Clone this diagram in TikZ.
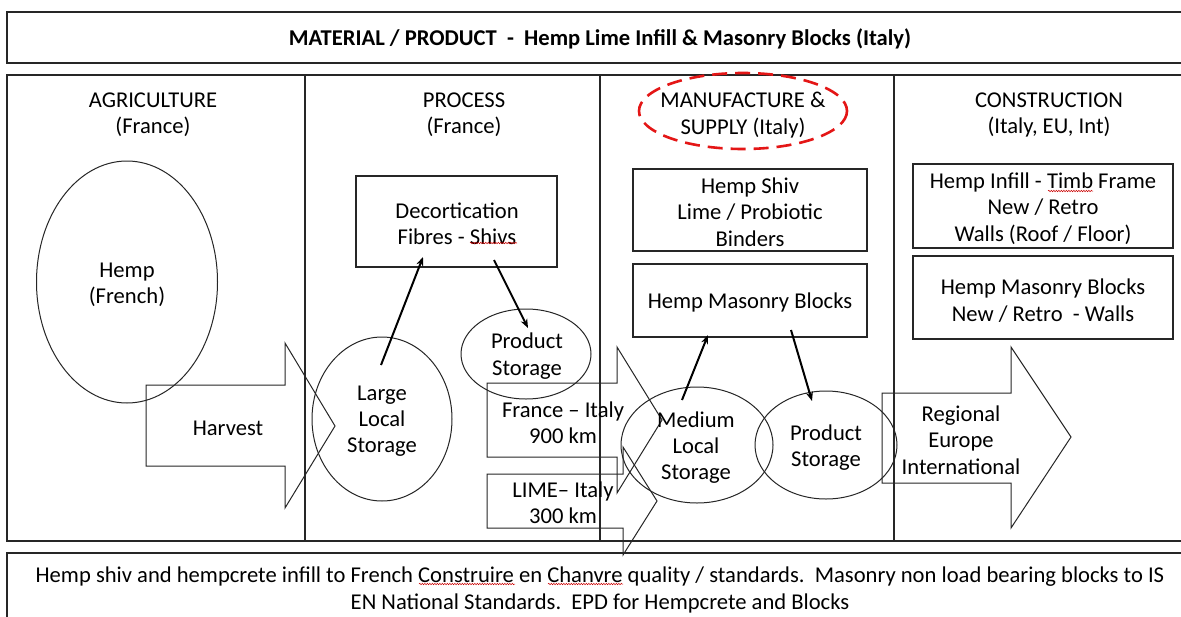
\documentclass[tikz,border=0pt]{standalone}
\usepackage{fontspec}
\setmainfont{Carlito}
\usetikzlibrary{shapes.geometric,arrows.meta,decorations.pathmorphing}
\definecolor{dashred}{RGB}{228,22,22}
\newcommand{\myfs}{\fontsize{22.6}{26.3}\selectfont}
\tikzset{
  frame/.style={draw=black!85, line width=1.1pt},
  txt/.style={align=center, inner sep=0pt, font=\myfs},
  oval/.style={draw=black!85, line width=1pt, ellipse, inner sep=0pt, align=center, font=\myfs},
  boxnode/.style={draw=black!85, line width=1.1pt, rectangle, inner sep=0pt, align=center, font=\myfs},
  blockarrow/.style={draw=black!85, line width=1pt},
  flow/.style={draw=black, line width=2pt, -{Stealth[length=9pt,width=7pt]}},
  squiggle/.style={draw=red!80!black, line width=0.5pt, decorate, decoration={snake, amplitude=0.7pt, segment length=2.5pt}}
}
\begin{document}
\begin{tikzpicture}[x=1pt,y=-1pt]
\useasboundingbox (0,0) rectangle (1181,616);
\fill[white] (0,0) rectangle (1181,616);
% frames
\draw[frame] (7,12) rectangle (1195,63);
\draw[frame] (7,75) rectangle (1195,541);
\draw[frame] (7,553) rectangle (1195,640);
\draw[frame] (305,75) -- (305,541);
\draw[frame] (600,75) -- (600,541);
\draw[frame] (894,75) -- (894,541);
% title and headers
\node[txt, font=\myfs\bfseries] (title) at (600,39) {MATERIAL / PRODUCT\ \ -\ \ Hemp Lime Infill \& Masonry Blocks (Italy)};
\node[txt] (hagr) at (153,115) {AGRICULTURE\\(France)};
\node[txt] (hproc) at (464,115) {PROCESS\\(France)};
\node[txt] (hman) at (743,115) {MANUFACTURE \&\\SUPPLY (Italy)};
\node[txt] (hcons) at (1049,115) {CONSTRUCTION\\(Italy, EU, Int)};
\draw[dashred, line width=2.6pt, dash pattern=on 15pt off 8pt] (743,111) ellipse [x radius=104, y radius=38];
% agriculture
\node[oval, minimum width=181pt, minimum height=242pt] (hemp) at (127,282) {};
\node[txt] (hempt) at (127,285) {Hemp\\(French)};
\draw[blockarrow] (146,385) -- (285,385) -- (285,343) -- (335,426) -- (285,508) -- (285,466) -- (146,466) -- cycle;
\node[txt] (harvest) at (228,428) {Harvest};
% process
\node[oval, minimum width=140pt, minimum height=164pt] (lls) at (382,419) {};
\node[txt] (llst) at (382,421) {Large\\Local\\Storage};
\node[boxnode, minimum width=201pt, minimum height=91pt] (dec) at (456.5,221.5) {};
\node[txt] (dect) at (457,223.5) {Decortication\\Fibres - Shivs};
\node[oval, minimum width=130pt, minimum height=90pt] (ps1) at (526,354) {};
\node[txt] (ps1t) at (527,356) {Product\\Storage};
\coordinate (a1s) at (381,365);
\coordinate (a1e) at (423,257);
\coordinate (a2s) at (494,260);
\coordinate (a2e) at (528,328);
\draw[flow] (a1s) -- (a1e);
\draw[flow] (a2s) -- (a2e);
% transport arrows
\draw[blockarrow] (487,383) -- (617,383) -- (617,347) -- (662,420) -- (617,493) -- (617,457) -- (487,457) -- cycle;
\node[txt] (fi) at (563,422.5) {France -- Italy\\900 km};
\draw[blockarrow] (487,474) -- (623,474) -- (623,447) -- (657,501) -- (623,555) -- (623,528) -- (487,528) -- cycle;
\node[txt] (li) at (563,503) {LIME-- Italy\\300 km};
% manufacture
\node[boxnode, minimum width=234pt, minimum height=82pt] (shiv) at (750,210) {};
\node[txt] (shivt) at (750,212) {Hemp Shiv\\Lime / Probiotic\\Binders};
\node[boxnode, minimum width=234pt, minimum height=73pt] (blocks) at (750,300.5) {};
\node[txt] (blockst) at (750,302) {Hemp Masonry Blocks};
\node[oval, minimum width=152pt, minimum height=116pt] (mls) at (697,445) {};
\node[txt] (mlst) at (696,447.5) {Medium\\Local\\Storage};
\node[oval, minimum width=142pt, minimum height=108pt] (ps2) at (826,445) {};
\node[txt] (ps2t) at (826,447.5) {Product\\Storage};
\coordinate (b1s) at (682,400);
\coordinate (b1e) at (708,335);
\coordinate (b2s) at (791,330);
\coordinate (b2e) at (812,401);
\draw[flow] (b1s) -- (b1e);
\draw[flow] (b2s) -- (b2e);
% construction
\draw[blockarrow] (882,393) -- (1011,393) -- (1011,347) -- (1071,437) -- (1011,528) -- (1011,483) -- (882,483) -- cycle;
\node[txt] (reg) at (961,440) {Regional\\Europe\\International};
\node[boxnode, minimum width=260pt, minimum height=84pt] (infill) at (1043,206) {};
\node[txt] (infillt) at (1043,208.5) {Hemp Infill - Timb Frame\\New / Retro\\Walls (Roof / Floor)};
\node[boxnode, minimum width=260pt, minimum height=83pt] (mblocks) at (1043,297.5) {};
\node[txt] (mblockst) at (1043,300.5) {Hemp Masonry Blocks\\New / Retro\ \ - Walls};
% footer
\node[txt] (foot) at (600,590) {Hemp shiv and hempcrete infill to French Construire en Chanvre quality / standards.\ \ Masonry non load bearing blocks to IS\\EN National Standards.\ \ EPD for Hempcrete and Blocks};
% spell-check underlines
\draw[squiggle] (470,243) -- (517,243);
\draw[squiggle] (1048,191) -- (1093,191);
\draw[squiggle] (419,584) -- (515,584);
\draw[squiggle] (548,584) -- (623,584);
\end{tikzpicture}
\end{document}
